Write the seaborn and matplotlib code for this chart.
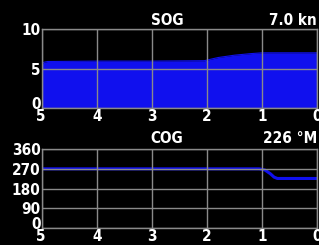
import numpy as np
import pandas as pd
import matplotlib
matplotlib.use("Agg")
import matplotlib.pyplot as plt
import matplotlib.transforms as mtrans
import seaborn as sns

# SOG history (minutes ago -> knots)
sog_min = [5.0, 4.97, 4.9, 4.0, 3.0, 2.05, 1.8, 1.5, 1.2, 1.0, 0.5, 0.0]
sog_kn = [5.5, 5.8, 5.9, 5.95, 5.95, 6.0, 6.4, 6.7, 6.9, 7.0, 7.0, 7.0]

# COG history (minutes ago -> degrees magnetic)
cog_min = [5.0, 4.0, 3.0, 2.0, 1.05, 0.95, 0.85, 0.78, 0.72, 0.5, 0.0]
cog_deg = [270, 270, 270, 270, 270, 265, 248, 232, 226, 226, 226]

x_ticks = [5, 4, 3, 2, 1, 0]
sog_yticks = [0, 5, 10]
cog_yticks = [0, 90, 180, 270, 360]

sog_title, sog_value = "SOG", "7.0 kn"
cog_title, cog_value = "COG", "226 °M"

sns.set_style("dark")
plt.rcParams['font.family'] = ['DejaVu Sans']
plt.rcParams['font.stretch'] = 'condensed'
plt.rcParams['font.weight'] = 'bold'

grid_c = "#8a8a8a"
blue = "#1010ee"

fig = plt.figure(figsize=(3.19, 2.45), dpi=100, facecolor="black")
ax1 = fig.add_axes([0.1317, 0.559, 0.862, 0.322])
ax2 = fig.add_axes([0.1317, 0.0694, 0.862, 0.322])

sog = pd.DataFrame({"min": sog_min, "kn": sog_kn})
cog = pd.DataFrame({"min": cog_min, "deg": cog_deg})

sns.lineplot(data=sog, x="min", y="kn", ax=ax1, color=blue, lw=0.8)
ax1.fill_between(sog["min"], 0, sog["kn"], color=blue, lw=0)
sns.lineplot(data=cog, x="min", y="deg", ax=ax2, color=blue, lw=2.2)

for ax, yt in [(ax1, sog_yticks), (ax2, cog_yticks)]:
    ax.set_facecolor("black")
    ax.set_xlim(5, 0)
    ax.set_ylim(yt[0], yt[-1])
    ax.set_xticks(x_ticks)
    ax.set_yticks(yt)
    ax.set_xlabel("")
    ax.set_ylabel("")
    ax.grid(True, color=grid_c, lw=1)
    ax.set_axisbelow(False)
    for s in ax.spines.values():
        s.set_visible(True)
        s.set_color(grid_c)
        s.set_linewidth(1)
    ax.tick_params(colors="white", labelsize=11, length=0, pad=1)
    for lbl in ax.get_xticklabels() + ax.get_yticklabels():
        lbl.set_fontweight("bold")
        lbl.set_fontstretch("condensed")
    # raise the "0" y label above the corner
    zero = ax.get_yticklabels()[0]
    zero.set_va("bottom")
    zero.set_transform(zero.get_transform() + mtrans.ScaledTranslation(0, -3 / 72, fig.dpi_scale_trans))
    first = ax.get_xticklabels()[0]
    first.set_ha("left")
    first.set_transform(first.get_transform() + mtrans.ScaledTranslation(-4 / 72, 0, fig.dpi_scale_trans))

kw = dict(color="white", fontsize=11, fontweight="bold", fontstretch="condensed", va="center")
fig.text(0.523, 0.918, sog_title, ha="center", **kw)
fig.text(0.994, 0.918, sog_value, ha="right", **kw)
fig.text(0.523, 0.433, cog_title, ha="center", **kw)
fig.text(0.994, 0.433, cog_value, ha="right", **kw)

fig.savefig("out.png", dpi=100, facecolor="black")
